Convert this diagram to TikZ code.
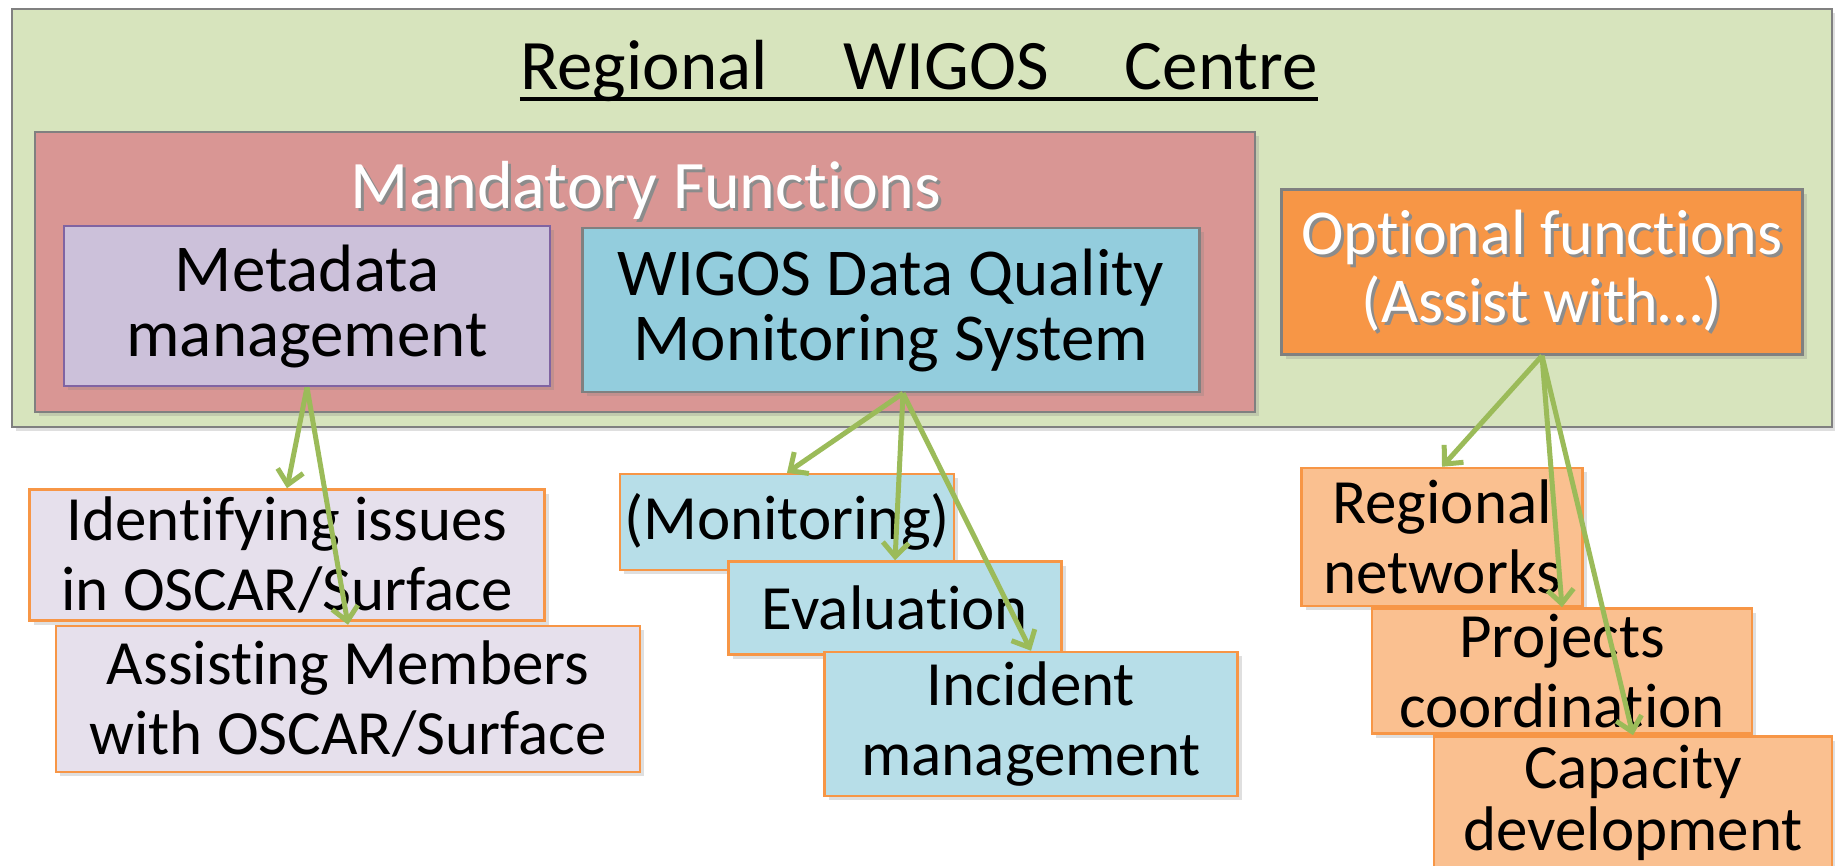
\documentclass[tikz,border=0pt]{standalone}
\usepackage{fontspec}
\setmainfont{Carlito}[Ligatures=NoCommon]
\usepackage{tikz}
\usetikzlibrary{arrows.meta,shadows}
\definecolor{regiongreen}{HTML}{D7E4BD}
\definecolor{boxgray}{HTML}{808080}
\definecolor{mandred}{HTML}{D99694}
\definecolor{metafill}{HTML}{CCC1DA}
\definecolor{metaline}{HTML}{8064A2}
\definecolor{dqmsblue}{HTML}{93CDDD}
\definecolor{optorange}{HTML}{F79646}
\definecolor{lowlav}{HTML}{E6E0EC}
\definecolor{lowblue}{HTML}{B7DEE8}
\definecolor{lowpeach}{HTML}{FAC090}
\definecolor{arrowgreen}{HTML}{9BBB59}
\newcommand{\shadowtxt}[1]{\makebox[0pt][l]{\kern3pt\raisebox{-3pt}{\color{black!45}#1}}#1}

\begin{document}
\begin{tikzpicture}[x=1pt,y=-1pt]
     \tikzstyle{every node}+=[inner sep=0pt, align=center]
     \tikzstyle{topbox}=[draw=boxgray, line width=2.5pt, drop shadow={shadow xshift=4pt, shadow yshift=-4pt, opacity=0.25}]
     \tikzstyle{lowbox}=[draw=optorange, line width=2.5pt, drop shadow={shadow xshift=4pt, shadow yshift=-4pt, opacity=0.25}, font=\fontsize{63}{70}\selectfont]
     \tikzstyle{feed}=[draw=arrowgreen, line width=5pt, -{Straight Barb[length=14pt,width=26pt]}]
     \useasboundingbox (0,0) rectangle (1835,865);
     \fill [white] (0,0) rectangle (1835,865);
     \node [topbox, fill=regiongreen, minimum width=1820pt, minimum height=418pt] (centre) at (922,218) {};
     \node [font=\fontsize{71}{80}\selectfont, anchor=base] (title) at (919,89) {Regional\hspace{76pt}WIGOS\hspace{76pt}Centre};
     \draw [line width=4.5pt] ([yshift=-10pt]title.base west) -- ([yshift=-10pt]title.base east);
     \node [topbox, fill=mandred, minimum width=1220pt, minimum height=280pt] (mand) at (645,272) {};
     \node [font=\fontsize{68}{70}\selectfont, text=white, anchor=base] (mandlabel) at (646,208) {\shadowtxt{Mandatory Functions}};
     \node [topbox, draw=metaline, fill=metafill, minimum width=486pt, minimum height=160pt, font=\fontsize{67}{65}\selectfont] (meta) at (307,306) {Metadata\\management};
     \node [topbox, fill=dqmsblue, minimum width=617pt, minimum height=164pt, font=\fontsize{67}{65}\selectfont] (dqms) at (891,310) {WIGOS Data Quality\\Monitoring System};
     \node [topbox, fill=optorange, minimum width=521pt, minimum height=165pt, text=white, font=\fontsize{64}{68}\selectfont] (option) at (1542,272) {\shadowtxt{Optional functions}\\\shadowtxt{(Assist with…)}};
     \node [lowbox, fill=lowlav, minimum width=515pt, minimum height=131pt] (ident) at (287,555) {Identifying issues\\in OSCAR/Surface};
     \node [lowbox, fill=lowlav, minimum width=584pt, minimum height=146pt] (assist) at (348,699) {Assisting Members\\with OSCAR/Surface};
     \node [lowbox, fill=lowblue, minimum width=334pt, minimum height=96pt] (monit) at (787,522) {(Monitoring)};
     \node [lowbox, fill=lowblue, minimum width=333pt, minimum height=93pt] (evalu) at (895,608) {Evaluation};
     \node [lowbox, fill=lowblue, minimum width=413pt, minimum height=144pt] (incid) at (1031,724) {Incident\\management};
     \node [lowbox, fill=lowpeach, minimum width=281pt, minimum height=138pt] (regnet) at (1442,537) {Regional\\networks};
     \node [lowbox, fill=lowpeach, minimum width=380pt, minimum height=125pt] (projc) at (1562,671) {Projects\\coordination};
     \node [lowbox, fill=lowpeach, minimum width=398pt, minimum height=133pt, font=\fontsize{63}{62}\selectfont] (capdev) at (1633,803) {Capacity\\development};
     \draw [feed] (meta.south) -- (ident.north);
     \draw [feed] (meta.south) -- (assist.north);
     \draw [feed] ([xshift=12pt]dqms.south) -- (monit.north);
     \draw [feed] ([xshift=12pt]dqms.south) -- (evalu.north);
     \draw [feed] ([xshift=12pt]dqms.south) -- (incid.north);
     \draw [feed] (option.south) -- (regnet.north);
     \draw [feed] (option.south) -- (projc.north);
     \draw [feed] (option.south) -- (capdev.north);
\end{tikzpicture}
\end{document}
